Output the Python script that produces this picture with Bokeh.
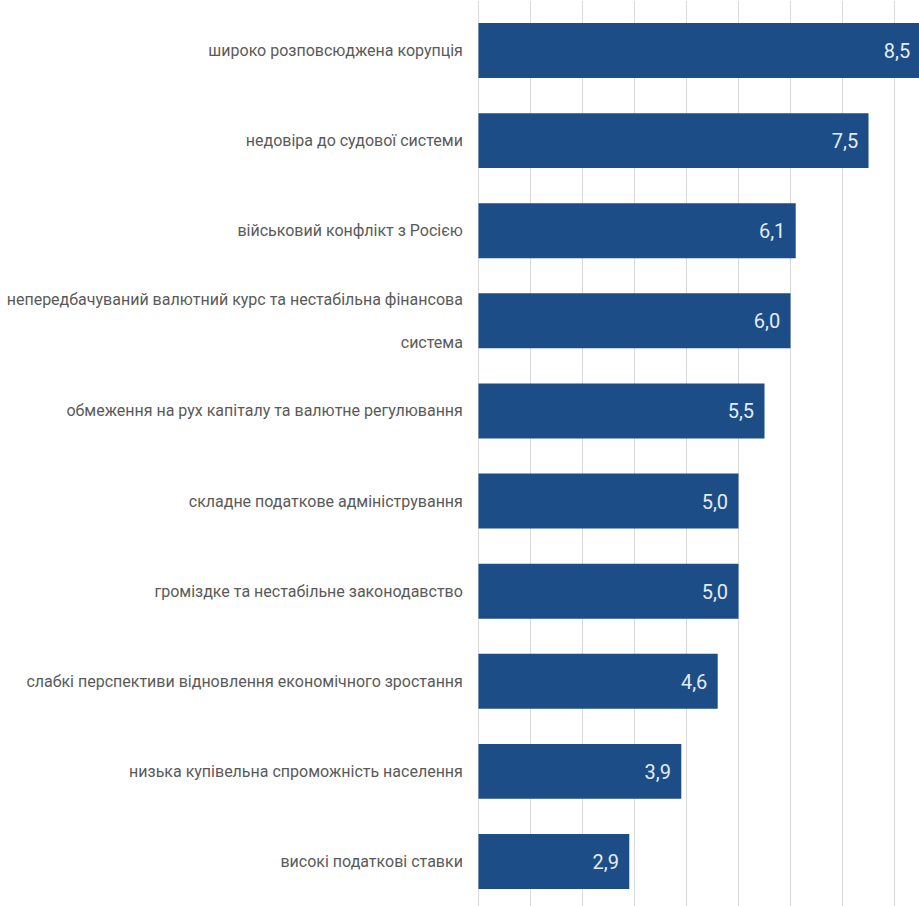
from bokeh.plotting import figure
from bokeh.models import ColumnDataSource, Range1d, FixedTicker
from bokeh.core.properties import value
from bokeh.embed import file_html
from bokeh.resources import INLINE

categories = [
    "широко розповсюджена корупція",
    "недовіра до судової системи",
    "військовий конфлікт з Росією",
    "непередбачуваний валютний курс та нестабільна фінансова\nсистема",
    "обмеження на рух капіталу та валютне регулювання",
    "складне податкове адміністрування",
    "громіздке та нестабільне законодавство",
    "слабкі перспективи відновлення економічного зростання",
    "низька купівельна спроможність населення",
    "високі податкові ставки",
]
values = [8.5, 7.5, 6.1, 6.0, 5.5, 5.0, 5.0, 4.6, 3.9, 2.9]
grid_ticks = [0, 1, 2, 3, 4, 5, 6, 7, 8, 9]

n = len(categories)
ypos = [n - 1 - i for i in range(n)]
src = ColumnDataSource(dict(
    cat=categories,
    val=values,
    y=ypos,
    lab=[f"{v:.1f}".replace(".", ",") for v in values],
    val_x=[v - 0.2 for v in values],
    cat_x=[-0.3] * n,
))

FONT = "Roboto"

p = figure(width=919, height=906, output_backend="svg", toolbar_location=None,
           x_range=Range1d(-9.19, 8.48), y_range=Range1d(-0.4994, 9.555),
           min_border_left=0, min_border_right=0, min_border_top=0, min_border_bottom=0)
p.outline_line_color = None
p.background_fill_color = "white"
p.border_fill_color = "white"
p.xaxis.visible = False
p.yaxis.visible = False
p.ygrid.visible = False
p.xgrid.ticker = FixedTicker(ticks=grid_ticks)
p.xgrid.grid_line_color = "#dadada"
p.xgrid.grid_line_width = 1

p.hbar(y="y", right="val", left=0, height=0.61, source=src,
       fill_color="#1d4d86", line_color=None)

p.text(x="val_x", y="y", text="lab", source=src,
       text_font=value(FONT), text_font_size="20px", text_color="#e2ecf7",
       text_align="right", text_baseline="middle")

p.text(x="cat_x", y="y", text="cat", source=src,
       text_font=value(FONT), text_font_size="16px", text_color="#5a5a5a",
       text_align="right", text_baseline="middle", text_line_height=2.25)

open("out.html", "w").write(file_html(p, INLINE))
